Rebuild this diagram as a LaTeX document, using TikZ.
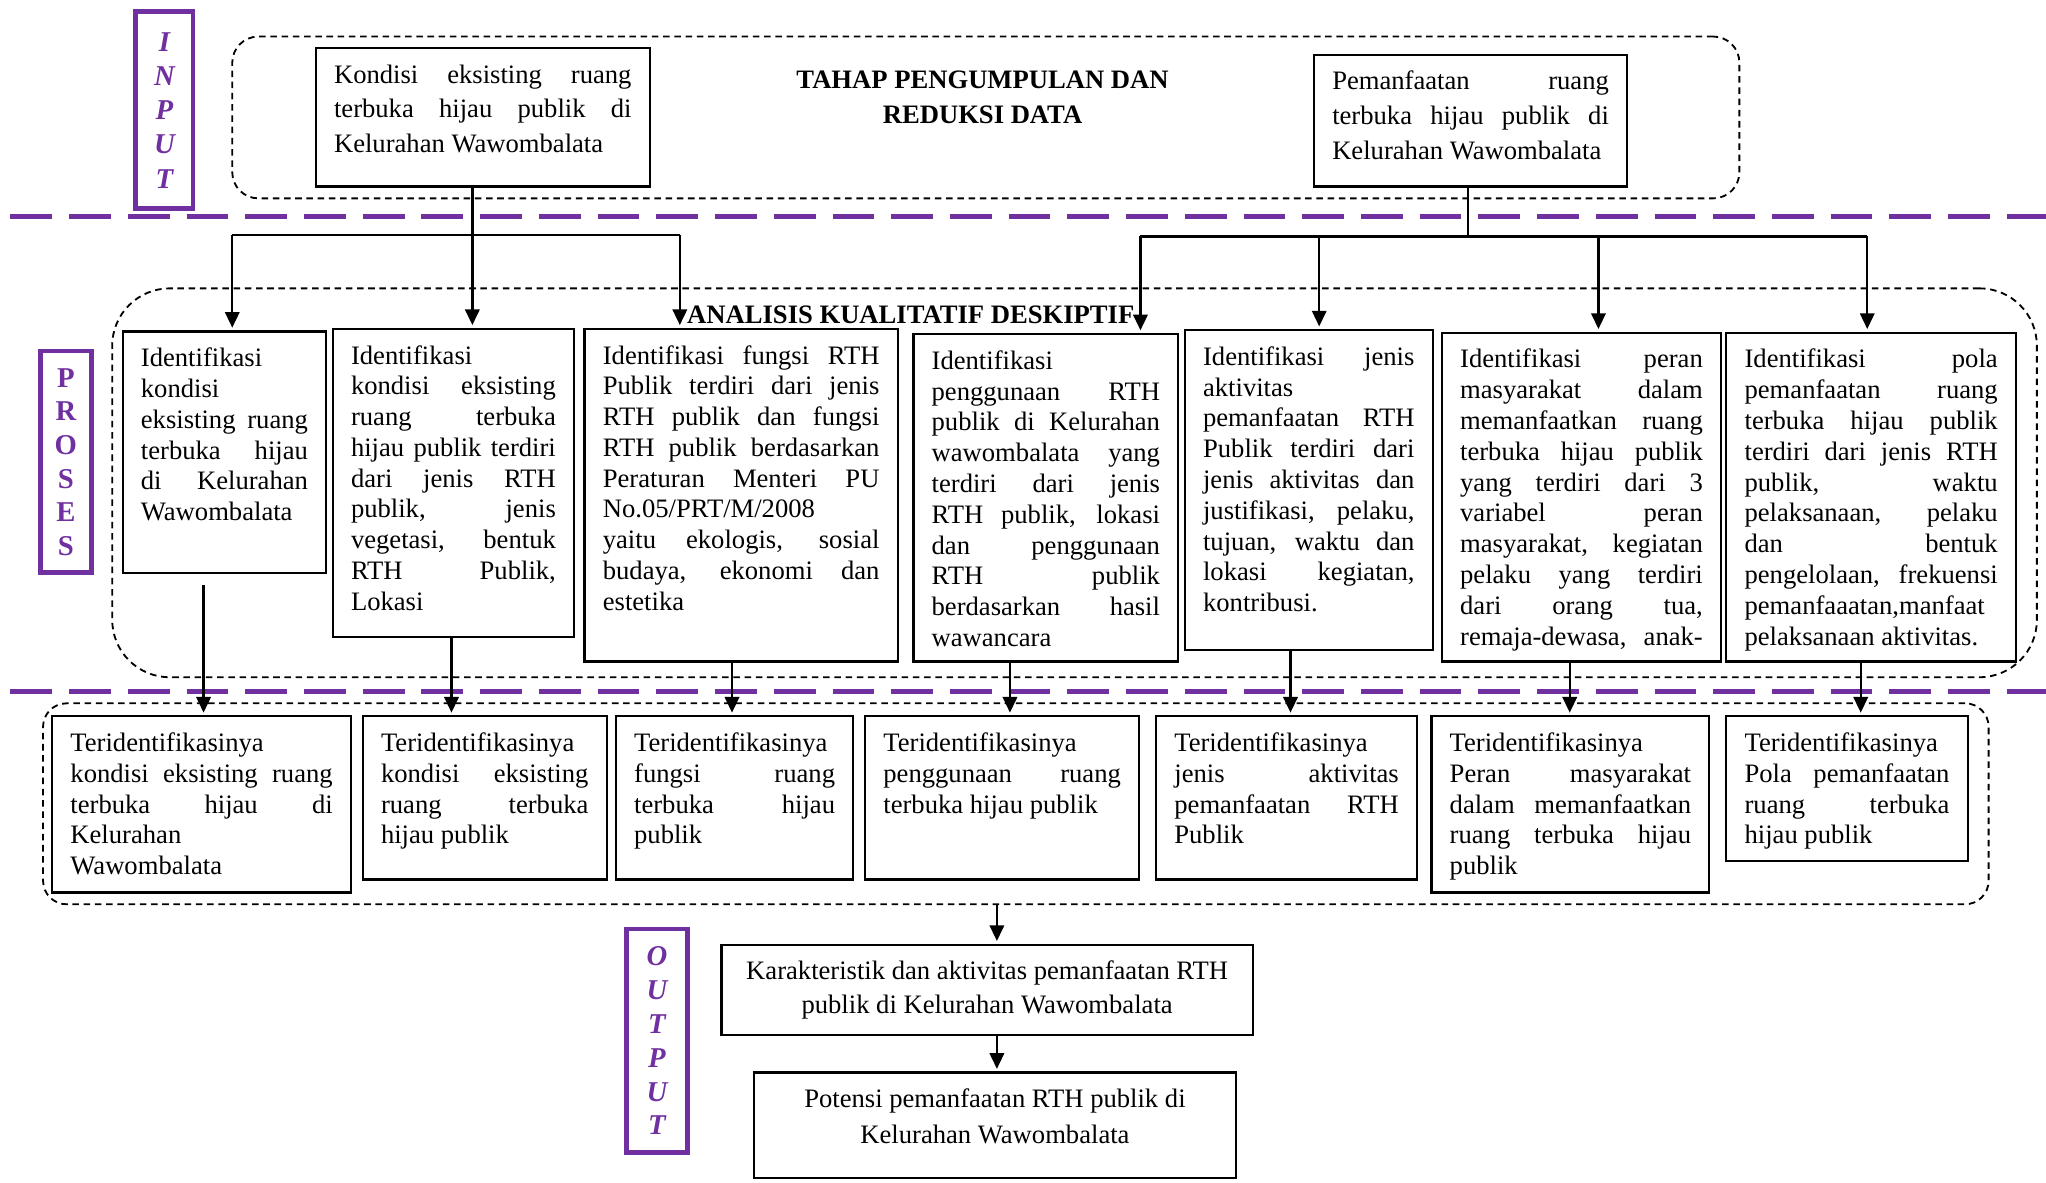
\documentclass[tikz,border=0pt]{standalone}
\usepackage{fontspec}
\setmainfont{Liberation Serif}
\usetikzlibrary{arrows.meta,calc}
\definecolor{purp}{HTML}{7030A0}
\newlength\padX \setlength\padX{7pt}
\newlength\padY \setlength\padY{6.3pt}
\setlength\parindent{0pt}
\newcommand\jline[1]{\hbox to\linewidth{#1}\par}
\newcommand\fline[1]{\hbox{#1}\par}
% name, x1, y1, x2, y2, baselineskip, alignment, content
\newcommand\bx[8]{\node[box] (#1) at ({(#2+#4)/2},{(#3+#5)/2})
  {\parbox[c][\dimexpr 0.5pt*\numexpr #5-#3\relax-2\padY\relax][t]{\dimexpr 0.5pt*\numexpr #4-#2\relax-2\padX\relax}{\setlength\baselineskip{#6}#7#8}};}
% name, x1, y1, x2, y2, radius
\newcommand\grp[6]{\node[grpbox,rounded corners=#6,minimum width={0.5pt*(#4-#2)},minimum height={0.5pt*(#5-#3)}] (#1) at ({(#2+#4)/2},{(#3+#5)/2}) {};}
\begin{document}
\begin{tikzpicture}[x=0.5pt,y=-0.5pt,
  font=\fontsize{10.2pt}{11.8pt}\selectfont,
  box/.style={draw,line width=0.85pt,fill=white,inner xsep=\padX,inner ysep=\padY},
  grpbox/.style={draw,dash pattern=on 2.5pt off 1.8pt,line width=0.7pt,inner sep=0pt},
  lab/.style={draw=purp,line width=1.8pt,text=purp,inner sep=0pt,align=center},
  ttl/.style={font=\fontsize{10.2pt}{13.3pt}\selectfont\bfseries,align=center,inner sep=0pt},
  arr/.style={-{Triangle[length=6pt,width=5.5pt]},line width=0.9pt,shorten >=1pt},
  con/.style={line width=0.9pt},
  sep/.style={draw=purp,line width=2.2pt,dash pattern=on 16pt off 6.5pt}]
\useasboundingbox (0,0) rectangle (1568,906);

% dashed group frames
\grp{topgrp}{178}{28}{1333}{152}{10pt}
\grp{procgrp}{86}{221}{1561}{519}{22pt}
\grp{botgrp}{33}{539}{1524}{693}{9pt}

% purple separators
\draw[sep] (8,166) -- (1568,166);
\draw[sep] (8,530) -- (1568,530);

% stage labels
\node[lab,minimum width=22pt,minimum height=75.5pt,font=\fontsize{11pt}{13.1pt}\selectfont\bfseries\itshape] (inp) at (126,84.5) {I\\N\\P\\U\\T};
\node[lab,minimum width=19.5pt,minimum height=85pt,font=\fontsize{11pt}{12.9pt}\selectfont\bfseries] (pro) at (50.5,354) {P\\R\\O\\S\\E\\S};
\node[lab,minimum width=23.5pt,minimum height=85.5pt,font=\fontsize{11pt}{13pt}\selectfont\bfseries\itshape] (out) at (503.5,797.5) {O\\U\\T\\P\\U\\T};

% titles
\node[ttl] (t1) at (753,74.5) {TAHAP PENGUMPULAN DAN\\REDUKSI DATA};
\node[ttl] (t2) at (698,241) {ANALISIS KUALITATIF DESKIPTIF};

% input boxes
\bx{k1}{242}{37}{498}{143}{13.25pt}{}{\jline{Kondisi eksisting ruang}\jline{terbuka hijau publik di}\fline{Kelurahan Wawombalata}}
\bx{k2}{1007}{42}{1247}{143}{13.25pt}{}{\jline{Pemanfaatan ruang}\jline{terbuka hijau publik di}\fline{Kelurahan Wawombalata}}

% process boxes
\bx{p1}{94}{254}{250}{439}{11.8pt}{}{\fline{Identifikasi}\fline{kondisi}\jline{eksisting ruang}\jline{terbuka hijau}\jline{di Kelurahan}\fline{Wawombalata}}
\bx{p2}{255}{252}{440}{488}{11.8pt}{}{\fline{Identifikasi}\jline{kondisi eksisting}\jline{ruang terbuka}\jline{hijau publik terdiri}\jline{dari jenis RTH}\jline{publik, jenis}\jline{vegetasi, bentuk}\jline{RTH Publik,}\fline{Lokasi}}
\bx{p3}{448}{252}{688}{507}{11.8pt}{}{\jline{Identifikasi fungsi RTH}\jline{Publik terdiri dari jenis}\jline{RTH publik dan fungsi}\jline{RTH publik berdasarkan}\jline{Peraturan Menteri PU}\fline{No.05/PRT/M/2008}\jline{yaitu ekologis, sosial}\jline{budaya, ekonomi dan}\fline{estetika}}
\bx{p4}{700}{256}{903}{507}{11.8pt}{}{\fline{Identifikasi}\jline{penggunaan RTH}\jline{publik di Kelurahan}\jline{wawombalata yang}\jline{terdiri dari jenis}\jline{RTH publik, lokasi}\jline{dan penggunaan}\jline{RTH publik}\jline{berdasarkan hasil}\fline{wawancara}}
\bx{p5}{908}{253}{1098}{498}{11.8pt}{}{\jline{Identifikasi jenis}\fline{aktivitas}\jline{pemanfaatan RTH}\jline{Publik terdiri dari}\jline{jenis aktivitas dan}\jline{justifikasi, pelaku,}\jline{tujuan, waktu dan}\jline{lokasi kegiatan,}\fline{kontribusi.}}
\bx{p6}{1105}{255}{1319}{507}{11.8pt}{}{\jline{Identifikasi peran}\jline{masyarakat dalam}\jline{memanfaatkan ruang}\jline{terbuka hijau publik}\jline{yang terdiri dari 3}\jline{variabel peran}\jline{masyarakat, kegiatan}\jline{pelaku yang terdiri}\jline{dari orang tua,}\jline{remaja-dewasa, anak-}}
\bx{p7}{1323}{255}{1545}{507}{11.8pt}{}{\jline{Identifikasi pola}\jline{pemanfaatan ruang}\jline{terbuka hijau publik}\jline{terdiri dari jenis RTH}\jline{publik, waktu}\jline{pelaksanaan, pelaku}\jline{dan bentuk}\jline{pengelolaan, frekuensi}\fline{pemanfaaatan,manfaat}\fline{pelaksanaan aktivitas.}}

% result boxes
\bx{q1}{40}{549}{269}{684}{11.8pt}{}{\fline{Teridentifikasinya}\jline{kondisi eksisting ruang}\jline{terbuka hijau di}\fline{Kelurahan}\fline{Wawombalata}}
\bx{q2}{278}{549}{465}{674}{11.8pt}{}{\fline{Teridentifikasinya}\jline{kondisi eksisting}\jline{ruang terbuka}\fline{hijau publik}}
\bx{q3}{472}{549}{654}{674}{11.8pt}{}{\fline{Teridentifikasinya}\jline{fungsi ruang}\jline{terbuka hijau}\fline{publik}}
\bx{q4}{663}{549}{873}{674}{11.8pt}{}{\fline{Teridentifikasinya}\jline{penggunaan ruang}\fline{terbuka hijau publik}}
\bx{q5}{886}{549}{1086}{674}{11.8pt}{}{\fline{Teridentifikasinya}\jline{jenis aktivitas}\jline{pemanfaatan RTH}\fline{Publik}}
\bx{q6}{1097}{549}{1310}{684}{11.8pt}{}{\fline{Teridentifikasinya}\jline{Peran masyarakat}\jline{dalam memanfaatkan}\jline{ruang terbuka hijau}\fline{publik}}
\bx{q7}{1323}{549}{1508}{660}{11.8pt}{}{\fline{Teridentifikasinya}\jline{Pola pemanfaatan}\jline{ruang terbuka}\fline{hijau publik}}

% output boxes
\bx{o1}{553}{724}{960}{793}{13pt}{\centering}{Karakteristik dan aktivitas pemanfaatan RTH\\publik di Kelurahan Wawombalata}
\bx{o2}{578}{822}{947}{903}{13.5pt}{\centering}{Potensi pemanfaatan RTH publik di\\Kelurahan Wawombalata}

% input -> process connectors
\coordinate (l1) at (178,180);
\coordinate (l2) at (362,180);
\coordinate (l3) at (521,180);
\draw[con] (l1) -- (l3);
\draw[arr] (l2 |- k1.south) -- (l2 |- p2.north);
\draw[arr] (l1) -- (l1 |- p1.north);
\draw[arr] (l3) -- (l3 |- p3.north);

\coordinate (m) at (1125,181);
\coordinate (r1) at (874,181);
\coordinate (r2) at (1011,181);
\coordinate (r3) at (1225,181);
\coordinate (r4) at (1431,181);
\draw[con] (m |- k2.south) -- (m);
\draw[con,line width=1.1pt] (r1) -- (r4);
\draw[arr] (r1) -- (r1 |- p4.north);
\draw[arr] (r2) -- (r2 |- p5.north);
\draw[arr] (r3) -- (r3 |- p6.north);
\draw[arr] (r4) -- (r4 |- p7.north);

% process -> result connectors
\coordinate (g1) at (156,448);
\coordinate (d2) at (346,0);
\coordinate (d3) at (561,0);
\coordinate (d4) at (774,0);
\coordinate (d5) at (989,0);
\coordinate (d6) at (1203,0);
\coordinate (d7) at (1426,0);
\draw[arr] (g1) -- (g1 |- q1.north);
\draw[arr] (d2 |- p2.south) -- (d2 |- q2.north);
\draw[arr] (d3 |- p3.south) -- (d3 |- q3.north);
\draw[arr] (d4 |- p4.south) -- (d4 |- q4.north);
\draw[arr] (d5 |- p5.south) -- (d5 |- q5.north);
\draw[arr] (d6 |- p6.south) -- (d6 |- q6.north);
\draw[arr] (d7 |- p7.south) -- (d7 |- q7.north);

% result -> output connectors
\coordinate (e) at (764,0);
\draw[arr] (e |- botgrp.south) -- (e |- o1.north);
\draw[arr] (e |- o1.south) -- (e |- o2.north);
\end{tikzpicture}
\end{document}
